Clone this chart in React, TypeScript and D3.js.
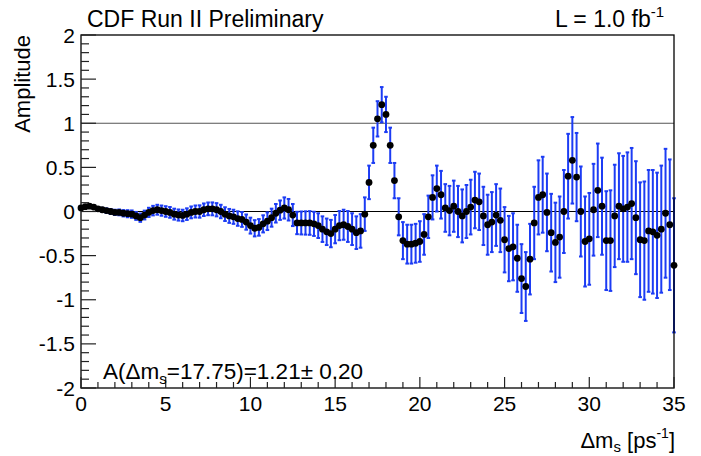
import React from "react";
import * as d3 from "d3";

// Amplitude scan: Δm_s points (ps^-1), measured amplitude and its uncertainty
const deltaMs = [
  0, 0.25, 0.5, 0.75, 1, 1.25, 1.5, 1.75, 2, 2.25, 2.5, 2.75, 3, 3.25, 3.5, 3.75,
  4, 4.25, 4.5, 4.75, 5, 5.25, 5.5, 5.75, 6, 6.25, 6.5, 6.75, 7, 7.25, 7.5, 7.75,
  8, 8.25, 8.5, 8.75, 9, 9.25, 9.5, 9.75, 10, 10.25, 10.5, 10.75, 11, 11.25, 11.5, 11.75,
  12, 12.25, 12.5, 12.75, 13, 13.25, 13.5, 13.75, 14, 14.25, 14.5, 14.75, 15, 15.25, 15.5, 15.75,
  16, 16.25, 16.5, 16.75, 17, 17.25, 17.5, 17.75, 18, 18.25, 18.5, 18.75, 19, 19.25, 19.5, 19.75,
  20, 20.25, 20.5, 20.75, 21, 21.25, 21.5, 21.75, 22, 22.25, 22.5, 22.75, 23, 23.25, 23.5, 23.75,
  24, 24.25, 24.5, 24.75, 25, 25.25, 25.5, 25.75, 26, 26.25, 26.5, 26.75, 27, 27.25, 27.5, 27.75,
  28, 28.25, 28.5, 28.75, 29, 29.25, 29.5, 29.75, 30, 30.25, 30.5, 30.75, 31, 31.25, 31.5, 31.75,
  32, 32.25, 32.5, 32.75, 33, 33.25, 33.5, 33.75, 34, 34.25, 34.5, 34.75, 35,
];

const amplitude = [
  0.04, 0.055, 0.06, 0.05, 0.03, 0.02, 0.01, 0.0, -0.01, -0.01, -0.02, -0.025, -0.03, -0.05, -0.07, -0.04,
  -0.01, 0.01, 0.02, 0.01, 0.0, -0.01, -0.03, -0.04, -0.045, -0.03, -0.01, 0.0, 0.0, 0.02, 0.03, 0.03,
  0.02, 0.0, -0.03, -0.05, -0.06, -0.08, -0.09, -0.12, -0.16, -0.19, -0.18, -0.14, -0.11, -0.07, -0.02, 0.015,
  0.04, 0.02, -0.04, -0.13, -0.13, -0.13, -0.13, -0.14, -0.16, -0.2, -0.23, -0.25, -0.2, -0.16, -0.15, -0.17,
  -0.2, -0.24, -0.22, -0.03, 0.33, 0.75, 1.05, 1.21, 1.1, 0.75, 0.35, -0.06, -0.33, -0.37, -0.37, -0.36,
  -0.34, -0.26, -0.06, 0.16, 0.26, 0.19, 0.04, 0.01, 0.06, 0.0, -0.05, 0.0, 0.05, 0.13, 0.11, -0.05,
  -0.15, -0.12, -0.04, -0.1, -0.32, -0.42, -0.4, -0.53, -0.76, -0.85, -0.54, -0.13, 0.16, 0.19, -0.01, -0.24,
  -0.35, -0.29, 0.0, 0.4, 0.58, 0.39, 0.0, -0.34, -0.31, 0.02, 0.24, 0.06, -0.33, -0.33, -0.05, 0.06,
  0.03, 0.05, 0.09, -0.07, -0.32, -0.33, -0.22, -0.23, -0.27, -0.2, -0.02, -0.15, -0.61,
];

const amplitudeError = [
  0.01, 0.012, 0.015, 0.017, 0.02, 0.022, 0.025, 0.028, 0.03, 0.033, 0.036, 0.04, 0.042, 0.045, 0.047, 0.05,
  0.052, 0.054, 0.056, 0.058, 0.06, 0.061, 0.062, 0.063, 0.065, 0.066, 0.067, 0.068, 0.07, 0.071, 0.072, 0.073,
  0.075, 0.076, 0.078, 0.079, 0.08, 0.082, 0.084, 0.086, 0.09, 0.092, 0.094, 0.097, 0.1, 0.102, 0.105, 0.11,
  0.12, 0.122, 0.125, 0.127, 0.13, 0.132, 0.134, 0.137, 0.14, 0.145, 0.15, 0.155, 0.16, 0.165, 0.17, 0.175,
  0.18, 0.185, 0.19, 0.19, 0.19, 0.2, 0.2, 0.2, 0.2, 0.2, 0.2, 0.21, 0.21, 0.22, 0.22, 0.22,
  0.23, 0.23, 0.24, 0.25, 0.26, 0.27, 0.27, 0.28, 0.29, 0.29, 0.3, 0.3, 0.31, 0.32, 0.32, 0.33,
  0.34, 0.34, 0.35, 0.36, 0.37, 0.37, 0.38, 0.38, 0.39, 0.39, 0.4, 0.41, 0.42, 0.43, 0.44, 0.44,
  0.45, 0.46, 0.47, 0.48, 0.49, 0.5, 0.51, 0.51, 0.52, 0.52, 0.53, 0.55, 0.56, 0.57, 0.58, 0.6,
  0.6, 0.62, 0.63, 0.64, 0.65, 0.67, 0.69, 0.7, 0.71, 0.72, 0.73, 0.74, 0.76,
];

const xMajorTicks = [0, 5, 10, 15, 20, 25, 30, 35];
const xTickLabels = ["0", "5", "10", "15", "20", "25", "30", "35"];
const yMajorTicks = [2, 1.5, 1, 0.5, 0, -0.5, -1, -1.5, -2];
const yTickLabels = ["2", "1.5", "1", "0.5", "0", "-0.5", "-1", "-1.5", "-2"];

const W = 701;
const H = 456;
const left = 81;
const right = 674;
const top = 35;
const bottom = 388;

const FONT = "'Liberation Sans', Arial, Helvetica, sans-serif";
const BLUE = "#1c3cf4";

export default function App() {
  const x = d3.scaleLinear().domain([0, 35]).range([left, right]);
  const y = d3.scaleLinear().domain([-2, 2]).range([bottom, top]);

  const xMinor = d3.range(0, 35.001, 1).filter((v) => v % 5 !== 0);
  const yMinor = d3.range(-20, 21, 1).map((v) => v / 10).filter((v) => Math.abs((v * 10) % 5) > 1e-6);

  const points = deltaMs.map((dm, i) => ({ dm, a: amplitude[i], e: amplitudeError[i] }));

  return (
    <svg
      width={W}
      height={H}
      viewBox={`0 0 ${W} ${H}`}
      style={{ position: "absolute", left: 0, top: 0, background: "#fff" }}
      fontFamily={FONT}
    >
      <rect x={0} y={0} width={W} height={H} fill="#fff" />

      {/* reference lines at A = 0 and A = 1 */}
      <line x1={left} x2={right} y1={y(1)} y2={y(1)} stroke="#555" strokeWidth={1.2} />
      <line x1={left} x2={right} y1={y(0)} y2={y(0)} stroke="#000" strokeWidth={1.2} />

      {/* error bars */}
      <g stroke={BLUE} strokeWidth={2}>
        {points.map((p, i) => {
          const cx = x(p.dm);
          const y1 = y(p.a + p.e);
          const y2 = y(p.a - p.e);
          return (
            <g key={i}>
              <line x1={cx} x2={cx} y1={y1} y2={y2} />
              <line x1={cx - 1.8} x2={cx + 1.8} y1={y1} y2={y1} />
              <line x1={cx - 1.8} x2={cx + 1.8} y1={y2} y2={y2} />
            </g>
          );
        })}
      </g>

      {/* amplitude points */}
      <g fill="#000">
        {points.map((p, i) => (
          <circle key={i} cx={x(p.dm)} cy={y(p.a)} r={3.4} />
        ))}
      </g>

      {/* frame */}
      <rect
        x={left}
        y={top}
        width={right - left}
        height={bottom - top}
        fill="none"
        stroke="#000"
        strokeWidth={1.3}
      />

      {/* y axis ticks */}
      <g stroke="#222" strokeWidth={1.2}>
        {yMajorTicks.map((v) => (
          <line key={`ym${v}`} x1={left} x2={left + 15} y1={y(v)} y2={y(v)} />
        ))}
        {yMinor.map((v) => (
          <line key={`yn${v}`} x1={left} x2={left + 8} y1={y(v)} y2={y(v)} />
        ))}
      </g>

      {/* x axis ticks */}
      <g stroke="#222" strokeWidth={1.2}>
        {xMajorTicks.map((v) => (
          <line key={`xm${v}`} x1={x(v)} x2={x(v)} y1={bottom} y2={bottom - 11} />
        ))}
        {xMinor.map((v) => (
          <line key={`xn${v}`} x1={x(v)} x2={x(v)} y1={bottom} y2={bottom - 6} />
        ))}
      </g>

      {/* tick labels */}
      <g fontSize={21} fill="#000">
        {yMajorTicks.map((v, i) => (
          <text key={`yl${v}`} x={left - 6} y={y(v)} dy="0.36em" textAnchor="end">
            {yTickLabels[i]}
          </text>
        ))}
        {xMajorTicks.map((v, i) => (
          <text key={`xl${v}`} x={x(v)} y={410.5} textAnchor="middle">
            {xTickLabels[i]}
          </text>
        ))}
      </g>

      {/* axis titles */}
      <text
        transform={`translate(30, ${top}) rotate(-90)`}
        textAnchor="end"
        fontSize={22}
        fill="#000"
      >
        Amplitude
      </text>
      <text x={675} y={448} textAnchor="end" fontSize={22} fill="#000">
        Δm
        <tspan fontSize={15} dy={4}>s</tspan>
        <tspan dy={-4}> [ps</tspan>
        <tspan fontSize={14} dy={-10}>-1</tspan>
        <tspan dy={10}>]</tspan>
      </text>

      {/* header */}
      <text x={87} y={27} fontSize={23} fill="#000">
        CDF Run II Preliminary
      </text>
      <text x={555} y={27} fontSize={23} fill="#000">
        L = 1.0 fb
        <tspan fontSize={15} dy={-10}>-1</tspan>
      </text>

      {/* fitted amplitude at the peak */}
      <text x={103} y={379} fontSize={22.5} fill="#000">
        A(Δm
        <tspan fontSize={15} dy={5}>s</tspan>
        <tspan dy={-5}>=17.75)=1.21± 0.20</tspan>
      </text>
    </svg>
  );
}
